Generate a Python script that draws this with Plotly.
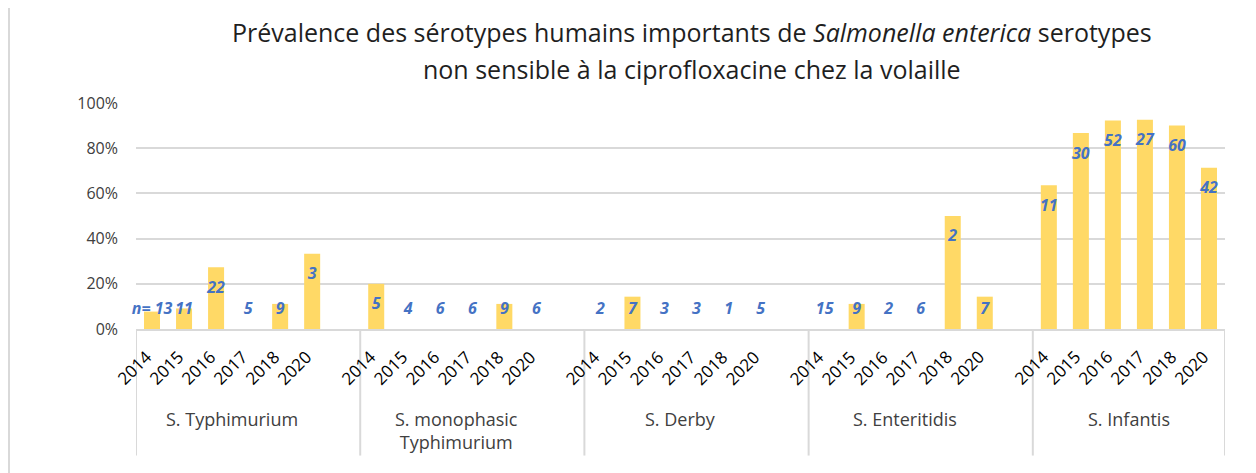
import plotly.graph_objects as go

# serotypes and years
serotypes = ['S. Typhimurium', 'S. monophasic<br>Typhimurium', 'S. Derby', 'S. Enteritidis', 'S. Infantis']
years = ['2014', '2015', '2016', '2017', '2018', '2020']

# share of non-susceptible isolates (fraction) per serotype / year
typhimurium = [0.077, 0.091, 0.273, 0.0, 0.111, 0.333]
monophasic = [0.20, 0.0, 0.0, 0.0, 0.111, 0.0]
derby = [0.0, 0.143, 0.0, 0.0, 0.0, 0.0]
enteritidis = [0.0, 0.111, 0.0, 0.0, 0.50, 0.143]
infantis = [0.636, 0.867, 0.923, 0.926, 0.90, 0.714]

# number of isolates tested (n)
n_typhimurium = ['n= 13', '11', '22', '5', '9', '3']
n_monophasic = ['5', '4', '6', '6', '9', '6']
n_derby = ['2', '7', '3', '3', '1', '5']
n_enteritidis = ['15', '9', '2', '6', '2', '7']
n_infantis = ['11', '30', '52', '27', '60', '42']

values = [typhimurium, monophasic, derby, enteritidis, infantis]
counts = [n_typhimurium, n_monophasic, n_derby, n_enteritidis, n_infantis]

FONT = 'Open Sans'

# flatten with an empty slot between groups
xcat, ycat, labels, ticktext = [], [], [], []
group_mid, dividers = [], [-0.5]
for g, name in enumerate(serotypes):
    start = len(xcat)
    for yr, v, n in zip(years, values[g], counts[g]):
        xcat.append(f'{g}-{yr}')
        ycat.append(v)
        labels.append(n)
        ticktext.append(yr)
    group_mid.append((start + len(xcat) - 1) / 2)
    if g < len(serotypes) - 1:
        xcat.append(f'{g}-gap')
        ycat.append(None)
        labels.append('')
        ticktext.append('')
    dividers.append(len(xcat) - 0.5)

xpos = list(range(len(xcat)))
label_y = [None if v is None else max(v - 0.095, 0.085) for v in ycat]

fig = go.Figure()
fig.add_trace(go.Bar(
    x=xpos, y=ycat, marker=dict(color='#FFD966', line=dict(width=0)),
    showlegend=False, hoverinfo='skip'
))
fig.add_trace(go.Scatter(
    x=xpos, y=label_y, mode='text', text=labels, cliponaxis=False,
    textfont=dict(family=FONT, size=16, color='#4472C4', weight='bold', style='italic'),
    showlegend=False, hoverinfo='skip'
))

# rotated year labels (drawn as annotations so the 45 degree angle is exact)
for x, t in zip(xpos, ticktext):
    if t:
        fig.add_annotation(x=x, y=0, xref='x', yref='paper', text=t, showarrow=False,
                           textangle=-45, xanchor='right', yanchor='top', xshift=7, yshift=-14,
                           font=dict(family=FONT, size=17, color='black'))

# group labels under the years
for mid, name in zip(group_mid, serotypes):
    fig.add_annotation(x=mid, y=-0.335, xref='x', yref='paper', text=name, showarrow=False,
                       yanchor='top', font=dict(family=FONT, size=18, color='#404040'))

# vertical separators between groups
for d in dividers:
    fig.add_shape(type='line', xref='x', yref='paper', x0=d, x1=d, y0=0, y1=-0.56,
                  line=dict(color='#D9D9D9', width=2))

# chart frame on the left
fig.add_shape(type='line', xref='paper', yref='paper', x0=-0.1166, x1=-0.1166, y0=-0.64, y1=1.42,
              line=dict(color='#D9D9D9', width=2))

# two-line title
fig.add_annotation(x=0.511, y=1.312, xref='paper', yref='paper', showarrow=False, yanchor='middle',
                   text='Prévalence des sérotypes humains importants de <i>Salmonella enterica</i> serotypes',
                   font=dict(family=FONT, size=25, color='#1F1F1F'))
fig.add_annotation(x=0.511, y=1.150, xref='paper', yref='paper', showarrow=False, yanchor='middle',
                   text='non sensible à la ciprofloxacine chez la volaille',
                   font=dict(family=FONT, size=25, color='#1F1F1F'))

fig.update_layout(
    bargap=0.5,
    plot_bgcolor='white',
    paper_bgcolor='white',
    margin=dict(l=128, r=31, t=95, b=144),
    width=1248,
    height=465,
    xaxis=dict(tickmode='array', tickvals=xpos, ticktext=[''] * len(xpos),
               range=[-0.5, len(xcat) - 0.5], showgrid=False, zeroline=False,
               showline=True, linecolor='#D9D9D9', linewidth=2, ticks=''),
    yaxis=dict(range=[0, 1], tickvals=[0, 0.2, 0.4, 0.6, 0.8, 1.0], tickformat='.0%',
               showgrid=True, gridcolor='#D9D9D9', gridwidth=2, zeroline=False,
               tickfont=dict(family=FONT, size=16, color='#404040'), ticks='',
               ticklabelstandoff=17),
)

fig.write_html("out.html")
